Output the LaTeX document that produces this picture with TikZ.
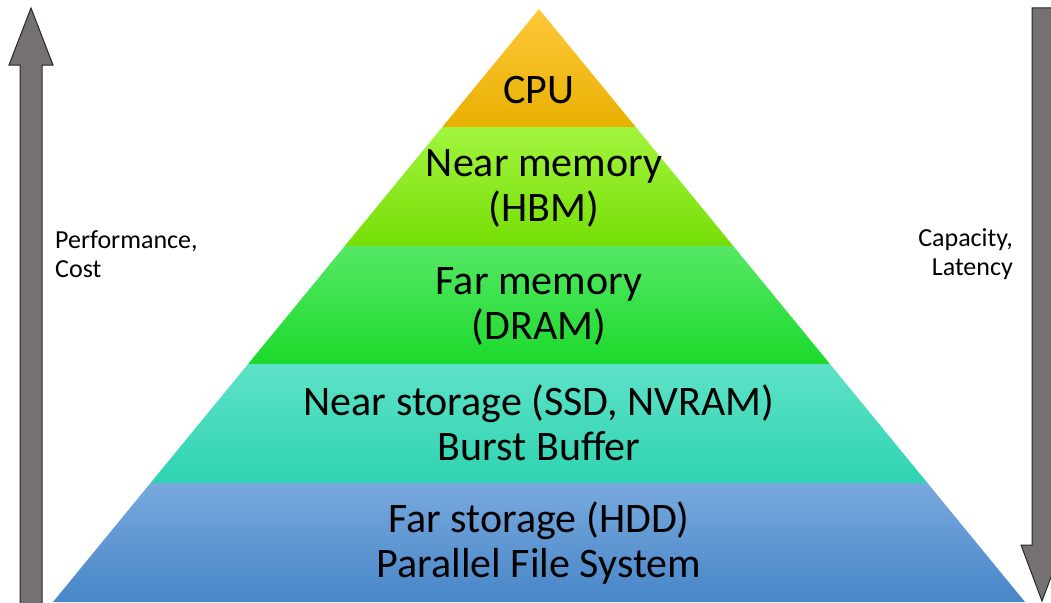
\documentclass[tikz,border=0pt]{standalone}
\usepackage{fontspec}
\setmainfont{Carlito}
\definecolor{arrowgray}{HTML}{767171}
\definecolor{cpuT}{HTML}{FFC83A}
\definecolor{cpuB}{HTML}{E8B000}
\definecolor{hbmT}{HTML}{A2F53E}
\definecolor{hbmB}{HTML}{76DE06}
\definecolor{dramT}{HTML}{55E865}
\definecolor{dramB}{HTML}{1CD92C}
\definecolor{ssdT}{HTML}{5EE2C8}
\definecolor{ssdB}{HTML}{2FD3B0}
\definecolor{hddT}{HTML}{78A9DD}
\definecolor{hddB}{HTML}{4886C8}
\tikzset{
  bigarrow/.style={fill=arrowgray, draw=black!85, line width=1pt, line join=miter},
  tierlabel/.style={font=\fontsize{42}{45}\selectfont, align=center, inner sep=0pt},
  sidelabel/.style={font=\fontsize{26}{29}\selectfont, inner sep=0pt},
}
\begin{document}
\begin{tikzpicture}[x=1pt,y=-1pt]
\useasboundingbox (0,0) rectangle (1051,602);
\clip (0,0) rectangle (1051,602);
% pyramid: apex (539,9), base y=602, half width 486 at the base
\shade[top color=cpuT, bottom color=cpuB]
  (539,9) -- (635.71,127) -- (442.29,127) -- cycle;
\shade[top color=hbmT, bottom color=hbmB]
  (442.29,127) -- (635.71,127) -- (733.24,246) -- (344.76,246) -- cycle;
\shade[top color=dramT, bottom color=dramB]
  (344.76,246) -- (733.24,246) -- (829.94,364) -- (248.06,364) -- cycle;
\shade[top color=ssdT, bottom color=ssdB]
  (248.06,364) -- (829.94,364) -- (927.47,483) -- (150.53,483) -- cycle;
\shade[top color=hddT, bottom color=hddB]
  (150.53,483) -- (927.47,483) -- (1025,602) -- (53,602) -- cycle;
% tier labels
\node[tierlabel] (cpu) at (539,90) {CPU};
\node[tierlabel] (hbm) at (544,188) {Near memory\\(HBM)};
\node[tierlabel] (dram) at (539,306.5) {Far memory\\(DRAM)};
\node[tierlabel] (ssd) at (539,423) {Near storage (SSD, NVRAM)\\Burst Buffer};
\node[tierlabel] (hdd) at (539,543.5) {Far storage (HDD)\\Parallel File System};
% side arrows
\draw[bigarrow] (31,8) -- (53,65) -- (42,65) -- (42,604) -- (20,604) -- (20,65) -- (9,65) -- cycle;
\draw[bigarrow] (1032,8) -- (1053,8) -- (1053,545) -- (1063,545) -- (1042,601) -- (1021,545) -- (1032,545) -- cycle;
% side labels
\node[sidelabel, anchor=west, align=left] (perf) at (55,254) {Performance,\\Cost};
\node[sidelabel, anchor=east, align=right] (cap) at (1013,254) {Capacity,\\Latency};
\end{tikzpicture}
\end{document}
